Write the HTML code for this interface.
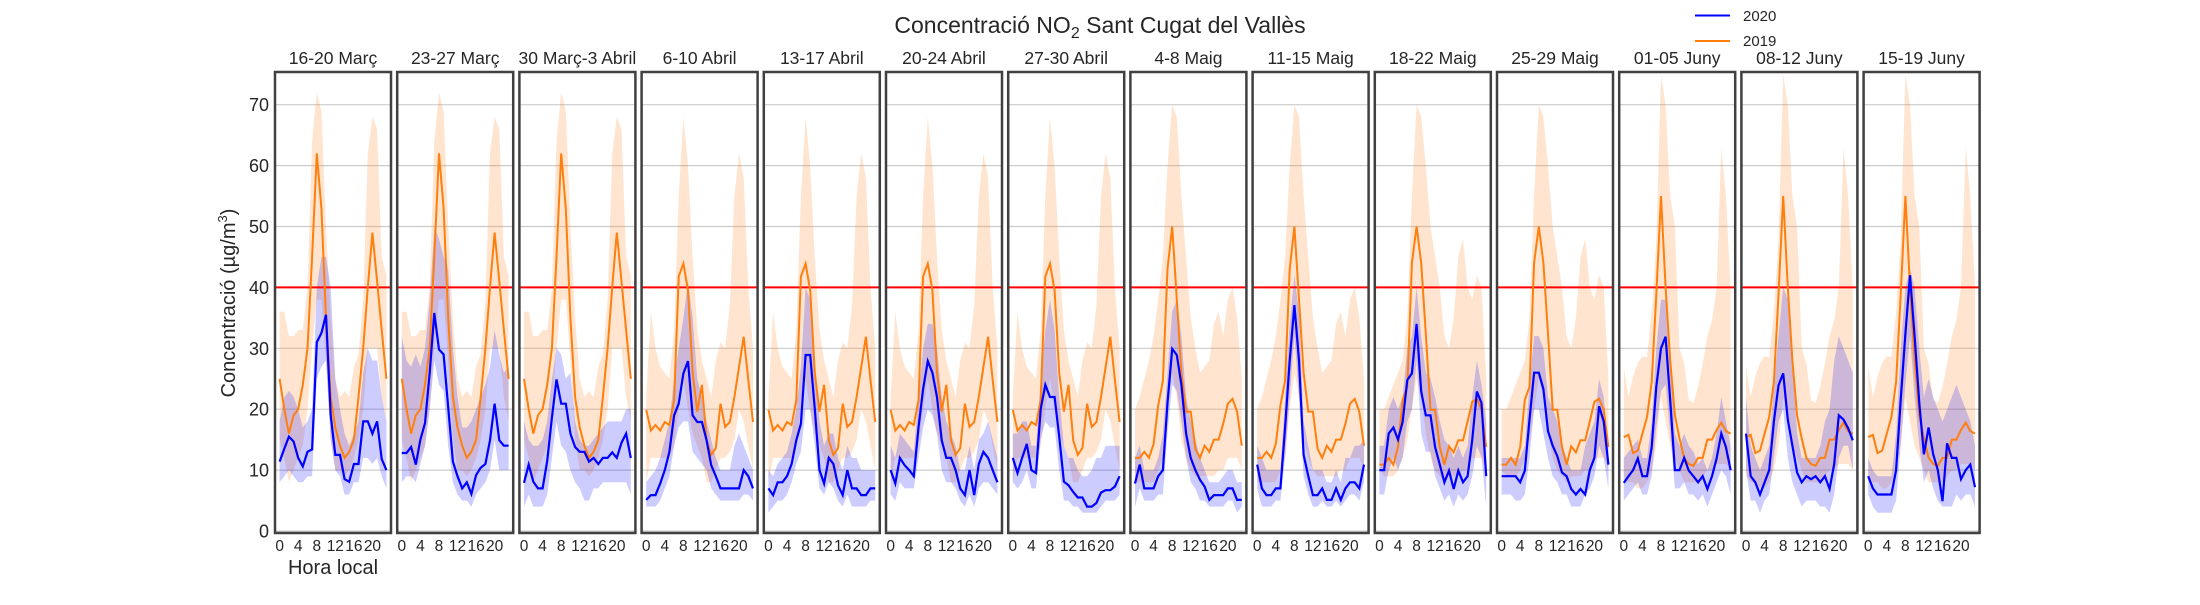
<!DOCTYPE html>
<html><head><meta charset="utf-8">
<style>
html,body{margin:0;padding:0;background:#fff;}
svg text{font-family:"Liberation Sans",Arial,sans-serif;fill:#262626;}
</style></head>
<body>
<svg id="chart" width="2200" height="600" viewBox="0 0 2200 600" xmlns="http://www.w3.org/2000/svg">
<text x="1100" y="33" font-size="23" text-anchor="middle">Concentració NO<tspan font-size="16" dy="5">2</tspan><tspan dy="-5"> Sant Cugat del Vallès</tspan></text>
<g>
<line x1="1695" y1="15.5" x2="1730" y2="15.5" stroke="#0000ff" stroke-width="2"/>
<text x="1743" y="21" font-size="15">2020</text>
<line x1="1695" y1="41" x2="1730" y2="41" stroke="#ff7f0e" stroke-width="2"/>
<text x="1743" y="46" font-size="15">2019</text>
</g>
<text transform="translate(235,303) rotate(-90)" font-size="20" text-anchor="middle">Concentració (µg/m<tspan font-size="13" dy="-8">3</tspan><tspan dy="8">)</tspan></text>
<text x="333" y="574" font-size="20" text-anchor="middle">Hora local</text>
<g id="panels"></g>
</svg>
<script>
const panelTitles = ["16-20 Març","23-27 Març","30 Març-3 Abril","6-10 Abril","13-17 Abril","20-24 Abril","27-30 Abril","4-8 Maig","11-15 Maig","18-22 Maig","25-29 Maig","01-05 Juny","08-12 Juny","15-19 Juny"];
const yTicks = [0,10,20,30,40,50,60,70];
const xTicks = [0,4,8,12,16,20];
const limitValue = 40;
// 2019 groups per panel
const group2019 = ["A","A","A","B","B","B","B","C","C","D","D","E","E","E"];
const o19A = [25,20,16,19,20,24,30,45,62,53,35,22,17,14,12,13,15,22,30,40,49,41,33,25];
const o19A_hi = [36,36,32,32,33,33,40,64,72,69,50,35,25,22,23,22,27,29,38,62,68,66,45,42];
const o19A_lo = [15,12,8,10,12,14,20,30,38,38,28,15,10,10,9,10,12,15,20,30,30,30,22,18];
const o19B = [19.9,16.5,17.4,16.5,17.9,17.4,21.5,41.8,43.9,39.5,26,19.6,24,14.9,12.5,13.6,20.9,17.1,17.9,22,26.9,31.9,24.8,17.9];
const o19B_hi = [22,36,30,27,26,25,33,55,68,60,45,33,28,25,22,28,31,30,37,55,62,58,40,30];
const o19B_lo = [8,12,12,12,12,12,14,20,25,20,16,14,12,8,8,10,12,12,13,15,20,18,14,10];
const o19C = [12,12,13,12,14.3,20.6,24.7,43,50,38,26,19.6,19.6,13.5,12,14,13,15,15,17.6,20.9,21.7,19.6,14];
const o19C_hi = [20,22,25,28,32,38,45,60,70,68,55,45,35,30,26,27,28,34,36,32,38,40,35,25];
const o19C_lo = [8,8,8,8,8,10,12,20,26,22,15,12,10,9,9,9,9,9,10,10,12,12,12,10];
const o19D = [10.9,10.9,12,10.9,13.8,21.5,23.7,44,50,44,32.4,19.9,19.9,13.8,10.9,13.9,12.9,14.9,14.9,18,21.2,21.7,19.9,13.8];
const o19D_hi = [20,20,22,24,26,28,35,55,70,68,60,50,45,40,32,30,35,45,48,40,38,42,40,25];
const o19D_lo = [10,9,9,9,10,12,15,20,25,22,16,12,10,9,8,9,9,9,10,10,12,12,12,10];
const o19E = [15.4,15.8,12.8,13.2,16,18.7,24.5,38.8,55,40,28,19,15.2,12,11,10.7,12,12,15,15,16.6,17.8,16.4,16];
const o19E_hi = [27,22,25.4,27.6,28.7,28.5,36,47.7,75,70,55,50,30,27.5,21.5,21,23.7,27.5,32,34.6,40,63,55,40];
const o19E_lo = [9,8,8,7,7,8,10,14,22,18,14,12,10,8,8,8,8,9,10,10,11,11,11,10];
// 2020 series per panel
const b20_1 = [11.4,13.5,15.5,14.7,12,10.6,13,13.4,31,32.5,35.5,19,12.5,12.5,8.5,8.1,11,11,18,18,16,18,11.8,10];
const b20_2 = [12.8,12.8,13.8,10.9,15,17.7,26,35.8,29.8,29,20.3,11.4,9,7,8,6.1,9.2,10.4,11,14.9,20.9,14.9,14,14];
const b20_3 = [7.9,10.9,8.1,7,7,11.5,18.6,24.9,20.9,20.9,16,13.8,13,13,11.4,12,11,12,12,12.9,12,14.5,16,12];
const b20_4 = [5.1,5.9,5.9,7.8,10,13,19,20.9,25.9,27.9,19,17.9,17.9,14.9,10.8,9,7,7,7,7,7,10,9,7];
const b20_5 = [7,5.9,8,8,9,11,14.9,17.6,28.9,28.9,20,10,7.8,12,11,7.5,5.9,10,7,7,5.9,5.9,7,7];
const b20_6 = [10,7.8,12,10.8,10,9,17,23.3,27.9,26,22,14.9,12,12,10,7,5.9,10,5.9,11,13,12,10,8];
const b20_7 = [12,9.5,12,14.3,10,9.5,20,24,22,22,15.5,8.1,7.5,6.4,5.5,5.5,4,4,4.6,6.3,6.7,6.7,7.3,9];
const b20_8 = [7.8,10.9,7,7,7,9,10,21,29.9,28.9,24,16,12,10,8.4,7.3,5.1,5.9,5.9,5.9,7,7,5.1,5.1];
const b20_9 = [10.9,7,5.9,5.9,7,7,17,28,37.1,28,12.5,9,5.9,5.9,7,5.1,5.1,7,5.1,7,8,8,7,10.9];
const b20_10 = [10,10,16,17,15,17.9,24.8,25.9,34,22.9,19,19,13.8,10.9,8,9.9,6.9,9.9,8,9,14.9,22.9,21,9];
const b20_11 = [9,9,9,9,8,9.9,18.3,26,26,23.3,16.4,14,12.3,9.6,9,6.9,6,6.9,6,10,12,20.5,18,10.9];
const b20_12 = [7.9,9,10,11.9,9,9,13.8,23.7,30,31.9,21.5,10,10,12,9.9,9,8,9,6.9,9,11.9,16,13.8,10];
const b20_13 = [16,9,8,6,8,10,18,23.9,25.9,18.3,14,9.6,8,9,8.5,9,8,9,6.9,11,19,18.3,16.9,14.9];
const b20_14 = [9,7,6,6,6,6,10,21.5,32.4,42,32,21,12.6,17,12.6,10,4.9,14.4,12,12,8.5,10,10.9,7.2];
const b20hi_1 = [18,22,23,22,20,17,18,20,40,45,45,40,25,20,16,14,16,18,26,30,28,28,22,18];
const b20lo_1 = [8,9,10,9,8,8,9,9,25,27,28,15,10,9,6,6,8,8,12,12,11,12,9,7];
const b20hi_2 = [32,28,27,29,27,30,38,50,48,45,43,30,22,17,17,18,20,22,24,27,33,29,26,27];
const b20lo_2 = [8,9,9,8,11,14,20,28,24,23,14,8,6,5,5,4,6,7,8,10,15,10,10,10];
const b20hi_3 = [18,15,14,14,15,18,25,30,29,25,26,18,15,14,14,15,16,17,18,18,18,18,20,20];
const b20lo_3 = [4,6,4,4,4,6,12,18,14,13,10,8,7,5,5,7,7,8,8,8,8,8,8,6];
const b20hi_4 = [8,9,10,12,15,18,25,30,35,41,35,25,22,18,15,12,10,10,10,14,16,14,12,10];
const b20lo_4 = [4,4,4,5,7,9,14,17,18,18,13,12,11,10,7,6,5,5,5,5,5,6,6,5];
const b20hi_5 = [10,9,11,12,13,16,20,27,40,38,28,18,14,16,16,12,10,14,12,12,10,10,10,10];
const b20lo_5 = [3,4,5,5,6,8,11,13,20,20,14,7,6,8,7,5,4,6,4,4,4,4,5,5];
const b20hi_6 = [14,12,16,15,14,13,22,30,34,34,30,22,18,16,14,10,10,14,10,15,16,18,15,12];
const b20lo_6 = [6,5,8,7,7,7,12,17,20,19,16,10,8,8,7,5,4,6,4,7,8,8,7,6];
const b20hi_7 = [16,16,18,18,14,14,25,33,38,33,22,14,12,12,10,9,9,10,12,12,14,14,14,14];
const b20lo_7 = [8,7,8,10,7,7,15,18,17,17,10,5,5,4,4,3,3,3,3,4,5,5,5,6];
const b20hi_8 = [12,14,10,10,10,12,16,26,36,38,32,22,18,15,12,10,8,8,8,9,10,10,8,8];
const b20lo_8 = [4,7,5,5,5,6,6,16,24,23,18,12,8,7,5,5,4,4,4,4,5,5,3,4];
const b20hi_9 = [14,12,10,10,10,10,22,34,42,36,18,14,10,10,10,8,8,10,8,12,12,14,14,15];
const b20lo_9 = [7,4,4,4,5,5,12,22,32,22,9,6,4,4,5,4,4,5,4,5,6,6,5,8];
const b20hi_10 = [14,14,20,22,20,22,30,32,40,32,26,25,22,18,15,14,12,14,12,14,22,28,24,18];
const b20lo_10 = [6,6,10,12,10,12,18,20,28,16,13,13,9,7,5,6,4,6,5,6,9,14,12,4];
const b20hi_11 = [12,12,12,12,12,14,24,32,32,30,22,20,18,14,12,10,10,10,14,16,18,25,22,14];
const b20lo_11 = [6,6,6,5,5,6,12,20,20,16,12,9,8,6,6,4,4,4,6,7,9,14,12,7];
const b20hi_12 = [12,13,14,15,12,12,18,30,38,38,30,16,14,16,14,13,11,12,10,12,16,22,18,14];
const b20lo_12 = [5,6,7,8,6,6,9,17,23,24,16,7,7,8,6,6,5,6,4,6,8,10,9,6];
const b20hi_13 = [22,14,12,10,12,14,24,32,40,38,28,16,12,12,12,12,14,18,20,28,32,30,28,26];
const b20lo_13 = [10,5,5,3,5,6,12,18,20,12,8,6,4,5,5,5,4,4,3,6,12,14,14,10];
const b20hi_14 = [12,10,9,9,9,9,16,30,40,43,40,30,22,25,22,20,18,20,22,24,22,20,18,14];
const b20lo_14 = [6,4,3,3,3,3,5,14,24,32,22,14,8,10,7,5,4,4,4,6,5,6,6,4];

const s2020 = [b20_1,b20_2,b20_3,b20_4,b20_5,b20_6,b20_7,b20_8,b20_9,b20_10,b20_11,b20_12,b20_13,b20_14];
const s2020hi = [b20hi_1,b20hi_2,b20hi_3,b20hi_4,b20hi_5,b20hi_6,b20hi_7,b20hi_8,b20hi_9,b20hi_10,b20hi_11,b20hi_12,b20hi_13,b20hi_14];
const s2020lo = [b20lo_1,b20lo_2,b20lo_3,b20lo_4,b20lo_5,b20lo_6,b20lo_7,b20lo_8,b20lo_9,b20lo_10,b20lo_11,b20lo_12,b20lo_13,b20lo_14];
const g2019 = {A:[o19A,o19A_hi,o19A_lo],B:[o19B,o19B_hi,o19B_lo],C:[o19C,o19C_hi,o19C_lo],D:[o19D,o19D_hi,o19D_lo],E:[o19E,o19E_hi,o19E_lo]};

const NS = "http://www.w3.org/2000/svg";
const P_LEFT = 275, P_PITCH = 122.2, P_W = 116, P_TOP = 72, P_BOT = 533;
const Y0 = 531, YPX = 6.09;
function yS(v){ return Y0 - v*YPX; }
function xS(p,h){ return P_LEFT + p*P_PITCH + (h+1)*(P_W/25); }
function mk(tag, attrs, parent){ const e=document.createElementNS(NS,tag); for(const k in attrs) e.setAttribute(k,attrs[k]); parent.appendChild(e); return e; }
function linePts(p,arr){ return arr.map((v,h)=>xS(p,h).toFixed(1)+","+yS(v).toFixed(1)).join(" "); }
function bandPts(p,hi,lo){
  const a = hi.map((v,h)=>xS(p,h).toFixed(1)+","+yS(v).toFixed(1));
  const b = lo.map((v,h)=>xS(p,h).toFixed(1)+","+yS(v).toFixed(1)).reverse();
  return a.concat(b).join(" ");
}
const root = document.getElementById("panels");
for(let p=0;p<14;p++){
  const left = P_LEFT + p*P_PITCH;
  const g = mk("g",{},root);
  
  
  const clipId = "clip"+p;
  const cp = mk("clipPath",{id:clipId},g);
  mk("rect",{x:left,y:P_TOP,width:P_W,height:P_BOT-P_TOP},cp);
  const t = mk("text",{x:left+P_W/2,y:64,"font-size":"17.5","text-anchor":"middle"},g);
  
  
  t.textContent = panelTitles[p];
  yTicks.forEach(v=>{
    const gl = mk("line",{x1:left,x2:left+P_W,y1:yS(v),y2:yS(v),stroke:"#cccccc","stroke-width":"1.2"},g);
    
    
  });
  const inner = mk("g",{"clip-path":"url(#"+clipId+")"},g);
  const grp = g2019[group2019[p]];
  const ob = mk("polygon",{points:bandPts(p,grp[1],grp[2]),fill:"#ff7f0e","fill-opacity":"0.2",stroke:"none"},inner);
  
  
  const bb = mk("polygon",{points:bandPts(p,s2020hi[p],s2020lo[p]),fill:"#0000ff","fill-opacity":"0.2",stroke:"none"},inner);
  
  
  const rl = mk("line",{x1:left,x2:left+P_W,y1:yS(limitValue),y2:yS(limitValue),stroke:"#ff0000","stroke-width":"2"},inner);
  
  
  const ol = mk("polyline",{points:linePts(p,grp[0]),fill:"none",stroke:"#ff7f0e","stroke-width":"2"},inner);
  
  
  const bl = mk("polyline",{points:linePts(p,s2020[p]),fill:"none",stroke:"#0000ff","stroke-width":"2.2"},inner);
  
  
  const fr = mk("rect",{x:left,y:P_TOP,width:P_W,height:P_BOT-P_TOP,fill:"none",stroke:"#404040","stroke-width":"2.5"},g);
  
  
  xTicks.forEach(h=>{
    const xt = mk("text",{x:xS(p,h),y:551,"font-size":"15.5","text-anchor":"middle"},g);
    
    
    xt.textContent = h;
  });
  if(p===0){
    yTicks.forEach(v=>{
      const yt = mk("text",{x:269,y:yS(v)+6.5,"font-size":"18","text-anchor":"end"},g);
      
      
      yt.textContent = v;
    });
  }
}
</script>
</body></html>
